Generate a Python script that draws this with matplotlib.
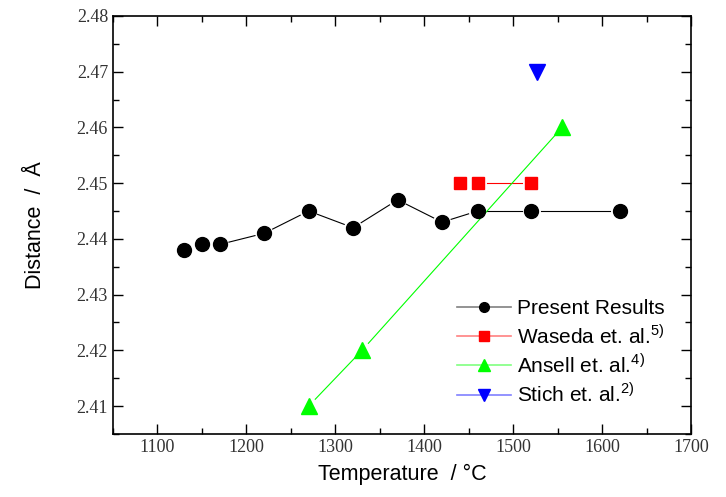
import matplotlib
matplotlib.use("Agg")
import numpy as np
import matplotlib.pyplot as plt
from matplotlib.lines import Line2D
from matplotlib.ticker import MultipleLocator

# data
present_t = [1130, 1150, 1170, 1220, 1270, 1320, 1370, 1420, 1460, 1520, 1620]
present_d = [2.438, 2.439, 2.439, 2.441, 2.445, 2.442, 2.447, 2.443, 2.445, 2.445, 2.445]

waseda_t = [1440, 1460, 1520]
waseda_d = [2.450, 2.450, 2.450]

ansell_t = [1270, 1330, 1555]
ansell_d = [2.410, 2.420, 2.460]

stich_t = [1527]
stich_d = [2.470]

plt.rcParams["mathtext.fontset"] = "custom"
plt.rcParams["mathtext.rm"] = "Liberation Sans"

fig = plt.figure(figsize=(7.26, 4.97), dpi=100)
ax = fig.add_axes([0.1556, 0.1268, 0.7964, 0.8412])
ax.set_xlim(1050, 1700)
ax.set_ylim(2.405, 2.48)


def gapped_line(x, y, color, gap=9.5):
    # connect points but leave a small gap around each symbol
    pts = ax.transData.transform(np.column_stack([x, y]))
    inv = ax.transData.inverted()
    for p, q in zip(pts[:-1], pts[1:]):
        d = q - p
        n = np.hypot(*d)
        if n <= 2 * gap:
            continue
        u = d / n
        a, b = inv.transform([p + u * gap, q - u * gap])
        ax.plot([a[0], b[0]], [a[1], b[1]], color=color, lw=0.8)


gapped_line(present_t, present_d, "black")
gapped_line(waseda_t, waseda_d, "red")
gapped_line(ansell_t, ansell_d, "#00ff00")

ax.plot(present_t, present_d, ls="none", marker="o", ms=10, color="black")
ax.plot(waseda_t, waseda_d, ls="none", marker="s", ms=8.5, color="red")
ax.plot(ansell_t, ansell_d, ls="none", marker="^", ms=11, color="#00ff00")
ax.plot(stich_t, stich_d, ls="none", marker="v", ms=11, color="blue")

ax.xaxis.set_major_locator(MultipleLocator(100))
ax.xaxis.set_minor_locator(MultipleLocator(50))
ax.yaxis.set_major_locator(MultipleLocator(0.01))
ax.yaxis.set_minor_locator(MultipleLocator(0.005))
ax.tick_params(which="both", direction="in", top=True, right=True)
ax.tick_params(which="major", length=7, width=1)
ax.tick_params(which="minor", length=4, width=1)
ax.tick_params(labelsize=13)
for lab in ax.get_xticklabels() + ax.get_yticklabels():
    lab.set_family("Liberation Serif")
    lab.set_color("#333333")
for sp in ax.spines.values():
    sp.set_linewidth(1.2)

ax.set_xlabel("Temperature  / °C", fontsize=15.5, family="Liberation Sans", labelpad=6)
ax.set_ylabel("Distance  /  Å", fontsize=15.5, family="Liberation Sans", labelpad=22)

# legend entries: pale connecting line, solid symbol
handles = [
    Line2D([], [], color="#808080", lw=1.2, marker="o", ms=7, mfc="black", mec="black"),
    Line2D([], [], color="#ff8080", lw=1.2, marker="s", ms=7, mfc="red", mec="red"),
    Line2D([], [], color="#80ff80", lw=1.2, marker="^", ms=9, mfc="#00ff00", mec="#00ff00"),
    Line2D([], [], color="#8080ff", lw=1.2, marker="v", ms=9, mfc="blue", mec="blue"),
]
labels = ["Present Results",
          r"Waseda et. al.$^{\mathrm{5)}}$",
          r"Ansell et. al.$^{\mathrm{4)}}$",
          r"Stich et. al.$^{\mathrm{2)}}$"]
ax.legend(handles, labels, loc="upper left", bbox_to_anchor=(0.5624, 0.368),
          frameon=False, prop={"family": "Liberation Sans", "size": 15},
          handlelength=2.6, handletextpad=0.3, labelspacing=0.26)

plt.savefig("out.png", dpi=100)
